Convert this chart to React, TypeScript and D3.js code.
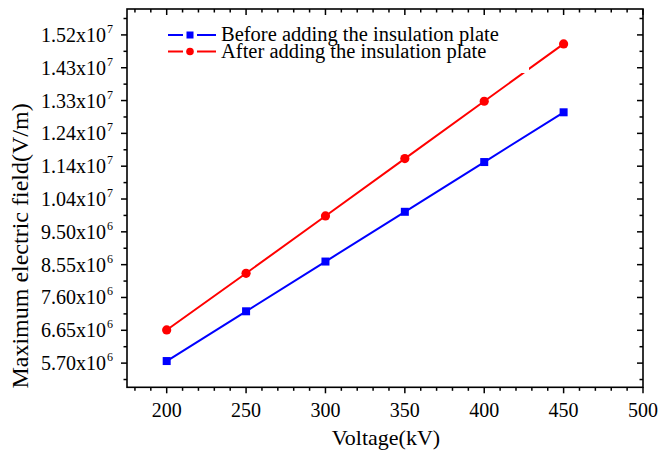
import React from "react";
import * as d3 from "d3";

const voltages = [200, 250, 300, 350, 400, 450];
const beforeValues = [5.76e6, 7.2e6, 8.64e6, 10.08e6, 11.52e6, 12.96e6];
const afterValues = [6.66e6, 8.3e6, 9.96e6, 11.62e6, 13.28e6, 14.94e6];
const seriesNames = ["Before adding the insulation plate", "After adding the insulation plate"];

const xTickValues = [200, 250, 300, 350, 400, 450, 500];
const yTickValues = [5.7e6, 6.65e6, 7.6e6, 8.55e6, 9.5e6, 10.45e6, 11.4e6, 12.35e6, 13.3e6, 14.25e6, 15.2e6];
const yTickMantissas = ["5.70", "6.65", "7.60", "8.55", "9.50", "1.04", "1.14", "1.24", "1.33", "1.43", "1.52"];
const yTickExponents = ["6", "6", "6", "6", "6", "7", "7", "7", "7", "7", "7"];

const W = 658, H = 451;
const L = 127, R = 643, T = 9, B = 387.3;
const FONT = "'Liberation Serif', 'Times New Roman', serif";

export default function App() {
  const x = d3.scaleLinear().domain([175, 500]).range([L, R]);
  const y = d3.scaleLinear().domain([5.0e6, 15.95e6]).range([B, T]);
  const line = d3.line<number>().x((_, i) => x(voltages[i])).y((d) => y(d));

  const xMinor = d3.range(180, 501, 10).filter((v) => v % 50 !== 0);
  const yMinor = yTickValues.map((v) => v - 0.475e6).concat([15.675e6]);

  const legendRows = [
    { name: seriesNames[0], color: "#0000ff", shape: "square", y: 35 },
    { name: seriesNames[1], color: "#ff0000", shape: "circle", y: 51.5 },
  ];

  return (
    <svg width={W} height={H} style={{ position: "absolute", left: 0, top: 0, background: "#fff" }}>
      <rect x={0} y={0} width={W} height={H} fill="#fff" />
      {/* series lines */}
      <path d={line(beforeValues) || ""} fill="none" stroke="#0000ff" strokeWidth={2} />
      <path d={line(afterValues) || ""} fill="none" stroke="#ff0000" strokeWidth={2} />
      {beforeValues.map((v, i) => (
        <rect key={"b" + i} x={x(voltages[i]) - 4} y={y(v) - 4} width={8} height={8} fill="#0000ff" />
      ))}
      {afterValues.map((v, i) => (
        <circle key={"a" + i} cx={x(voltages[i])} cy={y(v)} r={4.6} fill="#ff0000" />
      ))}

      {/* legend */}
      <rect x={160} y={22} width={369} height={51} fill="#fff" />
      {legendRows.map((r, i) => (
        <g key={i}>
          <line x1={168} x2={183} y1={r.y} y2={r.y} stroke={r.color} strokeWidth={2} />
          <line x1={197} x2={216} y1={r.y} y2={r.y} stroke={r.color} strokeWidth={2} />
          {r.shape === "square" ? (
            <rect x={186.5} y={r.y - 3.5} width={7} height={7} fill={r.color} />
          ) : (
            <circle cx={190} cy={r.y} r={3.8} fill={r.color} />
          )}
          <text x={221} y={r.y + 6} fontFamily={FONT} fontSize={20.5} fill="#000">{r.name}</text>
        </g>
      ))}

      {/* frame */}
      <rect x={L} y={T} width={R - L} height={B - T} fill="none" stroke="#000" strokeWidth={1.6} />

      {/* x ticks */}
      {xTickValues.map((v) => (
        <g key={"xt" + v}>
          <line x1={x(v)} x2={x(v)} y1={B} y2={B + 6} stroke="#000" strokeWidth={1.5} />
          <line x1={x(v)} x2={x(v)} y1={T} y2={T + 6} stroke="#000" strokeWidth={1.5} />
          <text x={x(v)} y={B + 30} textAnchor="middle" fontFamily={FONT} fontSize={20} fill="#000">{v}</text>
        </g>
      ))}
      {xMinor.map((v) => (
        <g key={"xm" + v}>
          <line x1={x(v)} x2={x(v)} y1={B} y2={B + 3.5} stroke="#000" strokeWidth={1.5} />
          <line x1={x(v)} x2={x(v)} y1={T} y2={T + 3.5} stroke="#000" strokeWidth={1.5} />
        </g>
      ))}

      {/* y ticks */}
      {yTickValues.map((v, i) => (
        <g key={"yt" + i}>
          <line x1={L - 6} x2={L} y1={y(v)} y2={y(v)} stroke="#000" strokeWidth={1.5} />
          <line x1={R - 6} x2={R} y1={y(v)} y2={y(v)} stroke="#000" strokeWidth={1.5} />
          <text x={106} y={y(v) + 7} textAnchor="end" fontFamily={FONT} fontSize={20} fill="#000">
            {yTickMantissas[i] + "x10"}
          </text>
          <text x={107} y={y(v) - 2} fontFamily={FONT} fontSize={12} fill="#000">{yTickExponents[i]}</text>
        </g>
      ))}
      {yMinor.map((v, i) => (
        <g key={"ym" + i}>
          <line x1={L - 3.5} x2={L} y1={y(v)} y2={y(v)} stroke="#000" strokeWidth={1.5} />
          <line x1={R - 3.5} x2={R} y1={y(v)} y2={y(v)} stroke="#000" strokeWidth={1.5} />
        </g>
      ))}

      {/* axis titles */}
      <text x={386} y={445} textAnchor="middle" fontFamily={FONT} fontSize={22} fill="#000">Voltage(kV)</text>
      <text
        transform={`translate(28, 246) rotate(-90)`}
        textAnchor="middle"
        fontFamily={FONT}
        fontSize={24}
        fill="#000"
      >
        Maximum electric field(V/m)
      </text>
    </svg>
  );
}
